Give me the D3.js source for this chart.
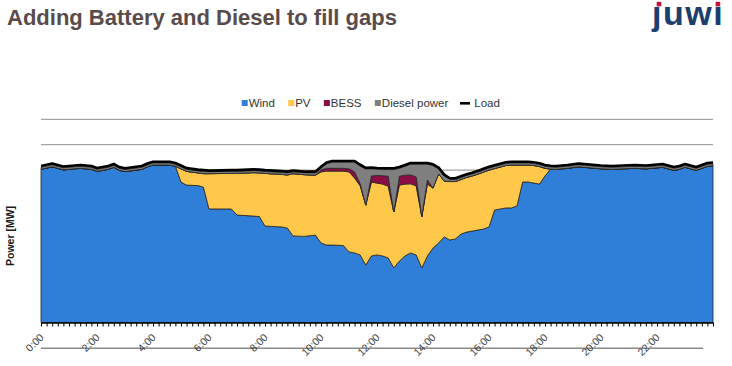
<!DOCTYPE html>
<html>
<head>
<meta charset="utf-8">
<script src="https://cdn.jsdelivr.net/npm/d3@7"></script>
<style>
body { margin: 0; background: #fff; }
svg text { font-family: "Liberation Sans", Arial, sans-serif; }
</style>
</head>
<body>
<div id="chart"></div>
<script>
// time of day in hours (12 min steps where the curve changes)
const hours = [0, 0.4, 0.8, 1.4, 1.8, 2.0, 2.4, 2.6, 2.8, 3.0, 3.6, 3.8, 4.0, 4.6, 4.8,
    5.0, 5.2, 5.6, 5.8, 6.0, 6.8, 7.0, 7.6, 7.8, 8.0, 8.6, 8.8, 9.0, 9.4, 9.8,
    10.0, 10.2, 10.4, 10.8, 11.0, 11.2, 11.4, 11.6, 11.8, 12.0, 12.2, 12.4, 12.6, 12.8,
    13.0, 13.2, 13.4, 13.6, 13.8, 14.0, 14.2, 14.4, 14.6, 14.8, 15.0, 15.2, 15.4, 15.6, 15.8,
    16.0, 16.2, 16.4, 16.6, 16.8, 17.0, 17.2, 17.4, 17.6, 17.8, 18.0, 18.2, 18.4, 18.8,
    19.2, 19.6, 20.0, 20.4, 20.8, 21.2, 21.6, 22.0, 22.2, 22.4, 22.6, 22.8, 23.0, 23.2,
    23.4, 23.6, 23.8, 24.0]

const wind = [6.03, 6.13, 6.01, 6.07, 6.03, 5.95, 6.03, 6.11, 5.99, 5.94, 6.03, 6.13, 6.20, 6.20, 6.15,
    5.53, 5.41, 5.39, 5.33, 4.47, 4.47, 4.23, 4.19, 4.17, 3.80, 3.76, 3.72, 3.41, 3.39, 3.44,
    3.13, 3.05, 3.05, 3.03, 2.78, 2.74, 2.66, 2.26, 2.62, 2.66, 2.62, 2.54, 2.15, 2.42,
    2.62, 2.74, 2.66, 2.15, 2.62, 2.93, 3.13, 3.37, 3.25, 3.29, 3.48, 3.56, 3.60, 3.64, 3.68,
    3.76, 4.43, 4.47, 4.51, 4.51, 4.59, 5.53, 5.53, 5.49, 5.45, 5.77, 6.04, 6.03, 6.07,
    6.13, 6.09, 6.05, 6.03, 6.05, 6.07, 6.05, 6.09, 6.11, 6.05, 5.99, 6.03, 6.11, 6.05,
    5.99, 6.07, 6.15, 6.17]

const pv = [0, 0, 0, 0, 0, 0, 0, 0, 0, 0, 0, 0, 0, 0, 0,
    0.52, 0.54, 0.50, 0.53, 1.39, 1.40, 1.64, 1.71, 1.72, 2.07, 2.07, 2.09, 2.45, 2.43, 2.36,
    2.80, 2.91, 2.91, 2.93, 3.15, 2.95, 2.72, 2.36, 2.91, 2.83, 2.83, 2.83, 2.20, 2.99,
    2.83, 2.72, 2.72, 2.01, 2.83, 2.36, 2.72, 2.20, 2.30, 2.26, 2.15, 2.15, 2.17, 2.20, 2.24,
    2.24, 1.63, 1.65, 1.67, 1.69, 1.61, 0.67, 0.67, 0.69, 0.69, 0.30, 0, 0, 0,
    0, 0, 0, 0, 0, 0, 0, 0, 0, 0, 0, 0, 0, 0,
    0, 0, 0, 0]

const bess = [0, 0, 0, 0, 0, 0, 0, 0, 0, 0, 0, 0, 0, 0, 0,
    0, 0, 0, 0, 0, 0, 0, 0, 0, 0, 0, 0, 0, 0, 0,
    0.08, 0.11, 0.11, 0.11, 0.12, 0.24, 0.08, 0, 0.24, 0.30, 0.33, 0.39, 0, 0.35,
    0.35, 0.35, 0.35, 0, 0.16, 0, 0, 0, 0, 0, 0, 0, 0, 0, 0,
    0, 0, 0, 0, 0, 0, 0, 0, 0, 0, 0, 0, 0, 0,
    0, 0, 0, 0, 0, 0, 0, 0, 0, 0, 0, 0, 0, 0,
    0, 0, 0, 0]

const diesel = [0.08, 0.08, 0.08, 0.08, 0.08, 0.08, 0.08, 0.08, 0.08, 0.08, 0.08, 0.08, 0.08, 0.08, 0.08,
    0.08, 0.08, 0.08, 0.08, 0.08, 0.08, 0.08, 0.08, 0.08, 0.08, 0.08, 0.08, 0.08, 0.08, 0.08,
    0.07, 0.18, 0.24, 0.24, 0.26, 0.38, 0.70, 1.42, 0.28, 0.24, 0.24, 0.26, 1.67, 0.31,
    0.35, 0.42, 0.50, 2.07, 0.62, 0.89, 0.20, 0.20, 0.08, 0.08, 0.08, 0.08, 0.08, 0.08, 0.08,
    0.08, 0.08, 0.08, 0.08, 0.08, 0.08, 0.08, 0.08, 0.08, 0.08, 0.08, 0.08, 0.08, 0.08,
    0.08, 0.08, 0.08, 0.08, 0.08, 0.08, 0.08, 0.08, 0.08, 0.08, 0.08, 0.08, 0.08, 0.08,
    0.08, 0.08, 0.08, 0.08]

const load = [6.16, 6.26, 6.14, 6.20, 6.16, 6.08, 6.16, 6.24, 6.12, 6.07, 6.16, 6.26, 6.33, 6.33, 6.28,
    6.18, 6.08, 6.02, 6.00, 5.98, 6.00, 6.00, 6.03, 6.02, 6.00, 5.96, 5.94, 5.98, 5.94, 5.94,
    6.13, 6.30, 6.36, 6.36, 6.36, 6.36, 6.21, 6.09, 6.10, 6.08, 6.07, 6.07, 6.07, 6.12,
    6.20, 6.28, 6.28, 6.28, 6.28, 6.23, 6.10, 5.82, 5.68, 5.68, 5.76, 5.84, 5.90, 5.97, 6.05,
    6.13, 6.19, 6.25, 6.31, 6.33, 6.33, 6.33, 6.33, 6.31, 6.27, 6.20, 6.17, 6.16, 6.20,
    6.26, 6.22, 6.18, 6.16, 6.18, 6.20, 6.18, 6.22, 6.24, 6.18, 6.12, 6.16, 6.24, 6.18,
    6.12, 6.20, 6.28, 6.30]

const seriesNames = ["Wind", "PV", "BESS", "Diesel power"]
const seriesColors = ["#2f7ed8", "#ffc84b", "#8c0c46", "#7f7f7f"]
const tickLabels = ["0:00", "2:00", "4:00", "6:00", "8:00", "10:00", "12:00", "14:00", "16:00", "18:00", "20:00", "22:00"]

let width = 732, height = 366
let margin = { top: 119.3, right: 19, bottom: 43.5, left: 41 }

let svg = d3.select("#chart")
    .append("svg")
    .attr("width", width)
    .attr("height", height)

let x = d3.scaleLinear().domain([0, 24]).range([margin.left, width - margin.right])
let y = d3.scaleLinear().domain([0, 8]).range([height - margin.bottom, margin.top])

// title + logo
svg.append("text")
    .attr("x", 7).attr("y", 25)
    .attr("font-size", 22).attr("font-weight", "bold")
    .attr("fill", "#594b4b")
    .text("Adding Battery and Diesel to fill gaps")

let logo = svg.append("text")
    .attr("x", 652).attr("y", 25)
    .attr("font-size", 34).attr("font-weight", "bold")
    .attr("letter-spacing", 1.5)
    .attr("fill", "#1d3d6d")
    .text("\u0237uw\u0131")
let logoNode = logo.node();
[0, 3].forEach(i => {
    let ext = logoNode.getExtentOfChar(i)
    svg.append("rect")
        .attr("x", ext.x + ext.width / 2 - 2.3 - (i == 0 ? -1.5 : 0.7))
        .attr("y", 1.8)
        .attr("width", 4.6).attr("height", 4.6)
        .attr("fill", "#c0123e")
})

// gridlines
svg.append("g")
    .selectAll("line")
    .data(d3.range(1, 9))
    .join("line")
    .attr("x1", x(0)).attr("x2", x(24))
    .attr("y1", d => y(d)).attr("y2", d => y(d))
    .attr("stroke", "#a3a3a3")
    .attr("stroke-width", 1.3)

// stacked areas
let rows = hours.map((h, i) => ({
    hour: h, "Wind": wind[i], "PV": pv[i], "BESS": bess[i], "Diesel power": diesel[i]
}))
let stacked = d3.stack().keys(seriesNames)(rows)

let area = d3.area()
    .x(d => x(d.data.hour))
    .y0(d => y(d[0]))
    .y1(d => y(d[1]))

svg.append("g")
    .selectAll("path")
    .data(stacked)
    .join("path")
    .attr("d", area)
    .attr("fill", (d, i) => seriesColors[i])
    .attr("stroke", "#262626")
    .attr("stroke-width", 0.8)
    .attr("stroke-linejoin", "round")

// load line
svg.append("path")
    .datum(hours.map((h, i) => [h, load[i]]))
    .attr("d", d3.line().x(d => x(d[0])).y(d => y(d[1])))
    .attr("fill", "none")
    .attr("stroke", "#000")
    .attr("stroke-width", 2.6)
    .attr("stroke-linejoin", "round")

// x axis with small ticks every 12 min
let xAxis = svg.append("g")
    .attr("transform", `translate(0,${y(0)})`)
    .call(d3.axisBottom(x)
        .tickValues(d3.range(0, 24.01, 0.2))
        .tickSize(4)
        .tickSizeOuter(0)
        .tickFormat(""))
xAxis.select(".domain").attr("stroke", "#000").attr("stroke-width", 1.4)
xAxis.selectAll(".tick line").attr("stroke", "#000")

// stray grey line under the labels
svg.append("line")
    .attr("x1", x(0)).attr("x2", x(23.65))
    .attr("y1", 348.3).attr("y2", 348.3)
    .attr("stroke", "#8a8a8a").attr("stroke-width", 1.5)

svg.append("g")
    .selectAll("text")
    .data(tickLabels)
    .join("text")
    .attr("transform", d => `translate(${x(+d.split(":")[0]) + 3.5},338) rotate(-45)`)
    .attr("text-anchor", "end")
    .attr("font-size", 10.5)
    .attr("fill", "#404040")
    .text(d => d)

// y axis title
svg.append("text")
    .attr("transform", "translate(13.5,236) rotate(-90)")
    .attr("text-anchor", "middle")
    .attr("font-size", 10.5).attr("font-weight", "bold")
    .attr("fill", "#1a1a1a")
    .text("Power [MW]")

// legend
let legend = svg.append("g").attr("font-size", 11.5).attr("fill", "#333")
let lx = 241.7
seriesNames.forEach((name, i) => {
    legend.append("rect")
        .attr("x", lx).attr("y", 100)
        .attr("width", 6).attr("height", 6)
        .attr("fill", seriesColors[i])
    let t = legend.append("text")
        .attr("x", lx + 7).attr("y", 106.5)
        .text(name)
    lx += 7 + t.node().getComputedTextLength() + 13.3
})
legend.append("line")
    .attr("x1", lx - 1.6).attr("x2", lx + 8.4)
    .attr("y1", 103.3).attr("y2", 103.3)
    .attr("stroke", "#000").attr("stroke-width", 2.6)
legend.append("text")
    .attr("x", lx + 12.7).attr("y", 106.5)
    .text("Load")
</script>
</body>
</html>
